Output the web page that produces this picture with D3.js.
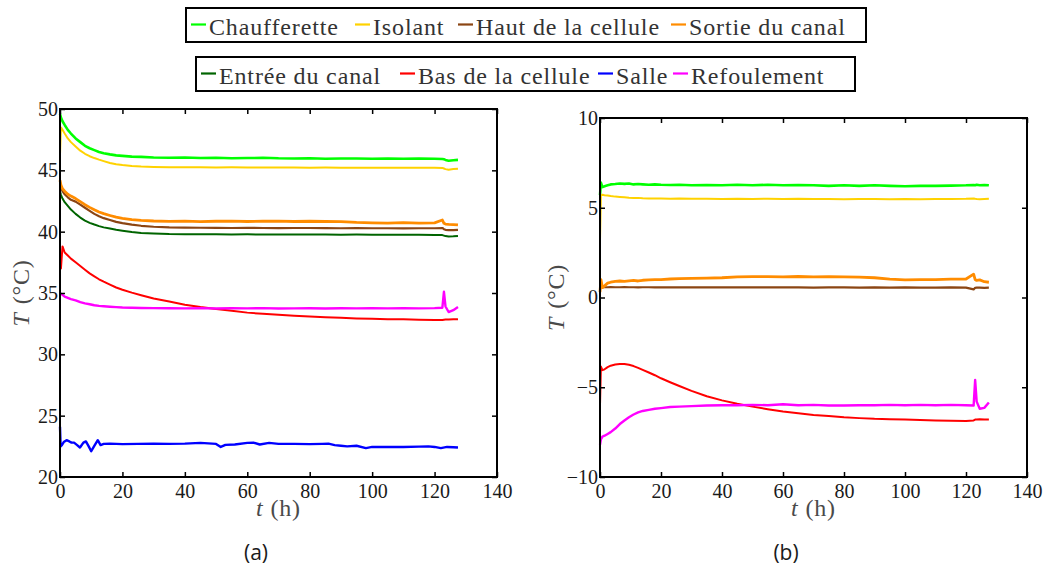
<!DOCTYPE html>
<html>
<head>
<meta charset="utf-8">
<script src="https://cdn.jsdelivr.net/npm/d3@7"></script>
<style>
  html, body { margin: 0; padding: 0; background: #fff; }
  svg { display: block; }
</style>
</head>
<body>
<svg id="chart" width="1045" height="570"></svg>
<script>
// ---- Data -------------------------------------------------------------
const seriesNames = ["Chaufferette", "Isolant", "Haut de la cellule", "Sortie du canal",
                     "Entrée du canal", "Bas de la cellule", "Salle", "Refoulement"];

// sampling times (h) shared by the probe records
const hours = [0, 0.3, 0.8, 1.5, 2.5, 3.5, 5, 6.5, 8, 9.5, 11, 12.5, 14, 16, 18, 20, 23, 26, 30, 35,
               40, 45, 50, 55, 60, 65, 70, 75, 80, 85, 90, 95, 100, 105, 110, 115, 120,
               122.5, 123, 123.5, 124.5, 126, 127.5];

// room probe is logged on its own time base
const salleHours = [0, 0.2, 0.6, 1.2, 2.1, 3, 3.7, 4.5, 5.5, 6.4, 7.5, 8.3, 9.2, 10, 10.8, 12.1, 13, 14, 16, 20,
                    25, 30, 35, 40, 45, 50, 51.5, 53, 56, 60, 62, 64, 67, 70, 75, 80, 84, 86, 88, 90,
                    92, 95, 98, 100, 105, 110, 115, 118, 120, 122, 124, 126, 127.5];

// (a) absolute temperatures, °C
const chaufferetteA = [49.6, 49.3, 49.0, 48.7, 48.3, 48.0, 47.6, 47.3, 47.0, 46.8, 46.65, 46.5, 46.4, 46.3, 46.22, 46.18, 46.12, 46.1, 46.05, 46.02,
                       46.05, 46.0, 46.03, 45.98, 46.0, 46.02, 45.98, 45.97, 45.99, 45.95, 45.97, 45.96, 45.95, 45.96, 45.94, 45.96, 45.95,
                       45.93, 45.9, 45.85, 45.78, 45.82, 45.85];
const isolantA = [46.3, 48.5, 48.3, 48.0, 47.6, 47.3, 46.95, 46.6, 46.35, 46.15, 46.0, 45.87, 45.75, 45.6, 45.5, 45.43, 45.35, 45.31, 45.28, 45.26,
                  45.25, 45.25, 45.24, 45.25, 45.24, 45.23, 45.24, 45.23, 45.22, 45.23, 45.22, 45.22, 45.21, 45.22, 45.21, 45.22, 45.21,
                  45.2, 45.15, 45.1, 45.05, 45.1, 45.12];
const hautA = [44.0, 43.6, 43.3, 43.05, 42.8, 42.6, 42.45, 42.2, 41.95, 41.7, 41.45, 41.25, 41.1, 40.95, 40.8, 40.7, 40.58, 40.48, 40.4, 40.35,
               40.33, 40.32, 40.31, 40.3, 40.31, 40.3, 40.29, 40.3, 40.3, 40.29, 40.28, 40.29, 40.28, 40.28, 40.27, 40.28, 40.28,
               40.3, 40.2, 40.15, 40.12, 40.13, 40.15];
const sortieA = [44.2, 43.8, 43.5, 43.3, 43.05, 42.9, 42.7, 42.45, 42.2, 41.98, 41.78, 41.6, 41.47, 41.32, 41.18, 41.08, 40.98, 40.92, 40.87, 40.84,
                 40.86, 40.82, 40.85, 40.86, 40.83, 40.85, 40.86, 40.83, 40.85, 40.83, 40.82, 40.75, 40.72, 40.7, 40.73, 40.7, 40.72,
                 40.95, 40.68, 40.62, 40.6, 40.58, 40.55];
const entreeA = [43.3, 43.0, 42.7, 42.4, 42.1, 41.8, 41.45, 41.15, 40.9, 40.72, 40.58, 40.45, 40.35, 40.25, 40.15, 40.08, 39.98, 39.9, 39.85, 39.8,
                 39.79, 39.78, 39.78, 39.77, 39.78, 39.77, 39.76, 39.77, 39.76, 39.76, 39.75, 39.76, 39.75, 39.75, 39.74, 39.75, 39.73,
                 39.72, 39.68, 39.64, 39.6, 39.62, 39.65];
const basA = [37.1, 37.0, 38.8, 38.3, 38.05, 37.8, 37.5, 37.2, 36.9, 36.6, 36.36, 36.12, 35.92, 35.68, 35.45, 35.27, 35.03, 34.82, 34.55, 34.3,
              34.05, 33.85, 33.7, 33.55, 33.4, 33.3, 33.22, 33.15, 33.08, 33.02, 32.98, 32.93, 32.9, 32.87, 32.85, 32.82, 32.8,
              32.8, 32.82, 32.83, 32.83, 32.85, 32.87];
const salleA = [24.1, 22.5, 22.6, 22.85, 23.0, 22.9, 22.8, 22.8, 22.6, 22.4, 22.8, 22.9, 22.5, 22.1, 22.45, 23.0, 22.6, 22.7, 22.72, 22.68,
                22.7, 22.72, 22.7, 22.72, 22.78, 22.7, 22.45, 22.62, 22.65, 22.78, 22.8, 22.65, 22.78, 22.7, 22.7, 22.68, 22.7, 22.72, 22.6, 22.55,
                22.5, 22.55, 22.35, 22.45, 22.45, 22.45, 22.48, 22.5, 22.45, 22.35, 22.45, 22.42, 22.4];
const refoulementA = [34.95, 34.95, 34.85, 34.7, 34.6, 34.5, 34.4, 34.25, 34.15, 34.08, 34.0, 33.95, 33.92, 33.88, 33.85, 33.82, 33.8, 33.78, 33.77, 33.76,
                      33.75, 33.77, 33.74, 33.76, 33.75, 33.77, 33.74, 33.75, 33.76, 33.74, 33.76, 33.75, 33.77, 33.75, 33.76, 33.75, 33.77,
                      33.8, 35.1, 33.9, 33.45, 33.6, 33.85];

// (b) temperatures relative to the room, °C
const chaufferetteB = [5.7, 6.4, 6.15, 6.2, 6.25, 6.3, 6.32, 6.35, 6.33, 6.35, 6.3, 6.32, 6.3, 6.28, 6.3, 6.28, 6.27, 6.28, 6.25, 6.27,
                       6.25, 6.28, 6.25, 6.28, 6.25, 6.27, 6.25, 6.22, 6.25, 6.22, 6.25, 6.22, 6.2, 6.22, 6.22, 6.23, 6.25,
                       6.27, 6.25, 6.28, 6.25, 6.27, 6.25];
const isolantB = [3.2, 5.7, 5.72, 5.7, 5.68, 5.65, 5.62, 5.6, 5.58, 5.56, 5.55, 5.55, 5.53, 5.52, 5.52, 5.51, 5.5, 5.51, 5.5, 5.5,
                  5.49, 5.5, 5.49, 5.5, 5.49, 5.5, 5.49, 5.49, 5.48, 5.49, 5.49, 5.48, 5.49, 5.48, 5.49, 5.49, 5.5,
                  5.52, 5.5, 5.49, 5.48, 5.49, 5.5];
const hautB = [0.45, 0.62, 0.58, 0.57, 0.57, 0.58, 0.57, 0.57, 0.58, 0.57, 0.57, 0.56, 0.57, 0.57, 0.56, 0.57, 0.56, 0.57, 0.56, 0.56,
               0.57, 0.56, 0.56, 0.57, 0.56, 0.56, 0.55, 0.56, 0.56, 0.55, 0.56, 0.55, 0.56, 0.55, 0.55, 0.56, 0.55,
               0.45, 0.54, 0.55, 0.55, 0.54, 0.55];
const sortieB = [0.3, 1.0, 0.55, 0.65, 0.8, 0.85, 0.9, 0.92, 0.9, 0.93, 0.95, 0.92, 0.96, 0.98, 1.0, 1.0, 1.03, 1.05, 1.06, 1.08,
                 1.1, 1.15, 1.16, 1.16, 1.15, 1.17, 1.15, 1.16, 1.15, 1.14, 1.1, 1.02, 0.98, 1.0, 1.0, 1.02, 1.03,
                 1.3, 1.0, 0.95, 0.98, 0.88, 0.85];
const basB = [-6.0, -3.85, -4.05, -4.0, -3.88, -3.8, -3.73, -3.7, -3.7, -3.75, -3.82, -3.92, -4.03, -4.18, -4.33, -4.5, -4.72, -4.93, -5.2, -5.5,
              -5.73, -5.92, -6.08, -6.22, -6.35, -6.45, -6.55, -6.6, -6.67, -6.72, -6.76, -6.78, -6.8, -6.82, -6.85, -6.87, -6.88,
              -6.85, -6.8, -6.8, -6.78, -6.8, -6.8];
const refoulementB = [-8.2, -7.9, -7.75, -7.7, -7.6, -7.5, -7.3, -7.05, -6.85, -6.67, -6.52, -6.4, -6.32, -6.26, -6.2, -6.16, -6.1, -6.08, -6.05, -6.02,
                      -6.0, -6.0, -5.98, -6.0, -5.95, -6.0, -5.98, -6.02, -6.02, -6.0, -6.0, -5.98, -6.0, -5.98, -6.0, -5.98, -6.0,
                      -6.02, -4.6, -5.8, -6.2, -6.15, -5.85];

const xTicks = [0, 20, 40, 60, 80, 100, 120, 140];
const yTicksA = [20, 25, 30, 35, 40, 45, 50];
const yTicksB = [-10, -5, 0, 5, 10];
const panelLabels = ["(a)", "(b)"];

// ---- Styles -----------------------------------------------------------
const colors = {
  "Chaufferette": "#00ff00",
  "Isolant": "#ffd200",
  "Haut de la cellule": "#8b4513",
  "Sortie du canal": "#ff8c00",
  "Entrée du canal": "#006400",
  "Bas de la cellule": "#ff0000",
  "Salle": "#0000ff",
  "Refoulement": "#ff00ff"
};
const widths = {
  "Chaufferette": 2.6, "Isolant": 2, "Haut de la cellule": 2.2, "Sortie du canal": 2.8,
  "Entrée du canal": 2, "Bas de la cellule": 2, "Salle": 2.4, "Refoulement": 2.4
};
const serifFont = "'Liberation Serif', 'Times New Roman', serif";

const svg = d3.select("#chart");

// ---- Panels -----------------------------------------------------------
const panels = [
  {
    x: d3.scaleLinear().domain([0, 140]).range([60, 497]),
    y: d3.scaleLinear().domain([20, 50]).range([477, 109]),
    yTicks: yTicksA,
    yLabelX: 29,
    caption: panelLabels[0], captionX: 256,
    series: [
      { name: seriesNames[0], t: hours, v: chaufferetteA },
      { name: seriesNames[1], t: hours, v: isolantA },
      { name: seriesNames[2], t: hours, v: hautA },
      { name: seriesNames[3], t: hours, v: sortieA },
      { name: seriesNames[4], t: hours, v: entreeA },
      { name: seriesNames[5], t: hours, v: basA },
      { name: seriesNames[6], t: salleHours, v: salleA },
      { name: seriesNames[7], t: hours, v: refoulementA }
    ]
  },
  {
    x: d3.scaleLinear().domain([0, 140]).range([600, 1027]),
    y: d3.scaleLinear().domain([-10, 10]).range([477, 118]),
    yTicks: yTicksB,
    yLabelX: 564,
    caption: panelLabels[1], captionX: 786,
    series: [
      { name: seriesNames[0], t: hours, v: chaufferetteB },
      { name: seriesNames[1], t: hours, v: isolantB },
      { name: seriesNames[2], t: hours, v: hautB },
      { name: seriesNames[3], t: hours, v: sortieB },
      { name: seriesNames[5], t: hours, v: basB },
      { name: seriesNames[7], t: hours, v: refoulementB }
    ]
  }
];

function styleTickText(sel) {
  sel.selectAll("text")
    .attr("font-family", serifFont)
    .attr("font-size", 20)
    .attr("fill", "#1a1a1a");
  sel.selectAll("line").attr("stroke", "#000").attr("stroke-width", 1.5);
  sel.select(".domain").remove();
}

panels.forEach(p => {
  const g = svg.append("g");
  const [xl, xr] = p.x.range();
  const [yb, yt] = p.y.range();

  // data lines
  const line = d3.line().x(d => p.x(d[0])).y(d => p.y(d[1]));
  p.series.forEach(s => {
    g.append("path")
      .datum(d3.zip(s.t, s.v))
      .attr("d", line)
      .attr("fill", "none")
      .attr("stroke", colors[s.name])
      .attr("stroke-width", widths[s.name])
      .attr("stroke-linejoin", "round");
  });

  // axes with inward ticks on all four sides
  g.append("g").attr("transform", `translate(0,${yb})`)
    .call(d3.axisBottom(p.x).tickValues(xTicks).tickSizeInner(-5).tickSizeOuter(0).tickPadding(7))
    .call(styleTickText);
  g.append("g").attr("transform", `translate(0,${yt})`)
    .call(d3.axisTop(p.x).tickValues(xTicks).tickSizeInner(-5).tickSizeOuter(0).tickFormat(() => ""))
    .call(styleTickText);
  g.append("g").attr("transform", `translate(${xl},0)`)
    .call(d3.axisLeft(p.y).tickValues(p.yTicks).tickSizeInner(-5).tickSizeOuter(0).tickPadding(2))
    .call(styleTickText);
  g.append("g").attr("transform", `translate(${xr},0)`)
    .call(d3.axisRight(p.y).tickValues(p.yTicks).tickSizeInner(-5).tickSizeOuter(0).tickFormat(() => ""))
    .call(styleTickText);

  // frame
  g.append("rect")
    .attr("x", xl).attr("y", yt)
    .attr("width", xr - xl).attr("height", yb - yt)
    .attr("fill", "none").attr("stroke", "#000").attr("stroke-width", 2);

  // axis titles
  const xt = g.append("text")
    .attr("x", (xl + xr) / 2).attr("y", 516)
    .attr("text-anchor", "middle")
    .attr("font-family", serifFont).attr("font-size", 24)
    .attr("fill", "#4a4a4a").attr("letter-spacing", 0.8);
  xt.append("tspan").attr("font-style", "italic").text("t");
  xt.append("tspan").attr("dx", 7).text("(h)");

  const yt2 = g.append("text")
    .attr("transform", `translate(${p.yLabelX},${(yt + yb) / 2}) rotate(-90)`)
    .attr("text-anchor", "middle")
    .attr("font-family", serifFont).attr("font-size", 24)
    .attr("fill", "#4a4a4a").attr("letter-spacing", 0.8);
  yt2.append("tspan").attr("font-style", "italic").text("T");
  yt2.append("tspan").attr("dx", 8).text("(°C)");

  // sub-figure caption
  g.append("text")
    .attr("x", p.captionX).attr("y", 560)
    .attr("text-anchor", "middle")
    .attr("font-family", "'Open Sans', 'DejaVu Sans', sans-serif")
    .attr("font-size", 21)
    .attr("fill", "#1a1a1a")
    .text(p.caption);
});

// ---- Legend (two framed rows) ----------------------------------------
const legendBoxes = [
  { x: 186, y: 8, w: 680, h: 34, items: [0, 1, 2, 3], itemX: [191, 355, 458, 671] },
  { x: 196, y: 57, w: 659, h: 34, items: [4, 5, 6, 7], itemX: [201, 400, 598, 673] }
];
legendBoxes.forEach(b => {
  const g = svg.append("g");
  g.append("rect")
    .attr("x", b.x).attr("y", b.y).attr("width", b.w).attr("height", b.h)
    .attr("fill", "#fff").attr("stroke", "#000").attr("stroke-width", 2);
  b.items.forEach((idx, i) => {
    const name = seriesNames[idx];
    const x0 = b.itemX[i];
    const cy = b.y + 16.5;
    g.append("line")
      .attr("x1", x0).attr("x2", x0 + 15)
      .attr("y1", cy).attr("y2", cy)
      .attr("stroke", colors[name]).attr("stroke-width", 2.2);
    g.append("text")
      .attr("x", x0 + 18).attr("y", b.y + 27)
      .attr("font-family", serifFont).attr("font-size", 24)
      .attr("letter-spacing", 0.85)
      .attr("fill", "#333")
      .text(name);
  });
});
</script>
</body>
</html>
